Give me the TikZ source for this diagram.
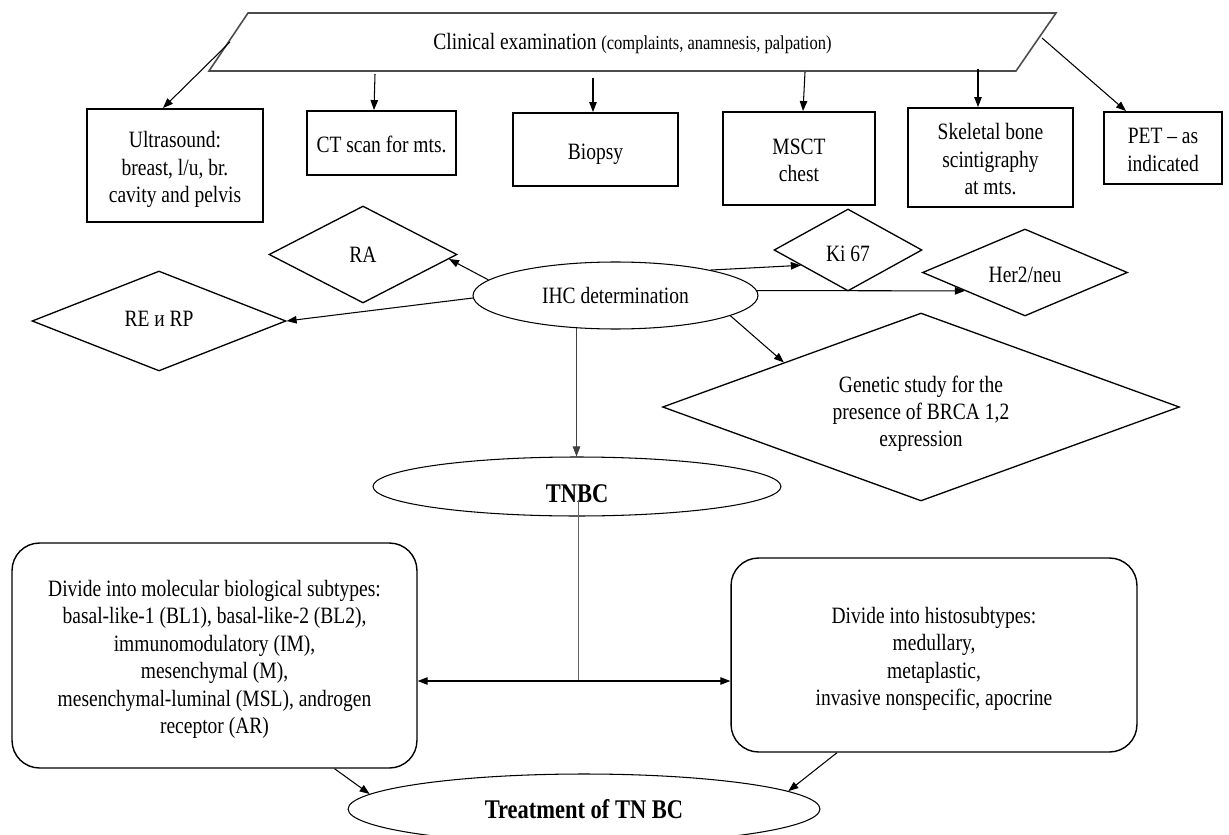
\documentclass[tikz,border=0pt]{standalone}
\usepackage{graphicx}
\usepackage{fontspec}
\setmainfont{Liberation Serif}
\usetikzlibrary{shapes.geometric,arrows.meta,calc}
\newcommand{\rfont}{\fontsize{11.1pt}{13pt}\selectfont}
\newcommand{\bfnt}{\fontsize{12.8pt}{15pt}\selectfont\bfseries}
\newcommand{\tx}[2][0pt]{\raisebox{\dimexpr-2.3pt-#1\relax}[\height][\depth]{\scalebox{1}[1.2]{\begin{tabular}{@{}c@{}}#2\end{tabular}}}}
\begin{document}
\begin{tikzpicture}[x=0.02cm,y=-0.02cm,font=\rfont,
  box/.style={draw,rectangle,line width=1.1pt,inner sep=0pt},
  dia/.style={draw,diamond,line width=0.75pt,inner sep=0pt},
  ell/.style={draw,ellipse,line width=0.6pt,inner sep=0pt},
  rbox/.style={draw,rectangle,rounded corners=0.55cm,line width=0.8pt,inner sep=0pt},
  arr/.style={-{Triangle[length=0.2cm,width=0.15cm]},line width=0.6pt},
  thin gray/.style={line width=0.5pt,black!60}]
\useasboundingbox (0,0) rectangle (1229,834);

% parallelogram
\coordinate (p1) at (248,13);
\coordinate (p2) at (1056,13);
\coordinate (p3) at (1016,71);
\coordinate (p4) at (209,71);
\draw[line width=0.9pt,black!70] (p1) -- (p2) -- (p3) -- (p4) -- cycle;
\node (clin) at (632.5,43.5) {\scalebox{1}[1.2]{Clinical examination {\fontsize{9.4pt}{11pt}\selectfont (complaints, anamnesis, palpation)}}};

% top boxes
\node[box,minimum width=3.52cm,minimum height=2.26cm] (us) at (175,165.5) {\tx{Ultrasound:\\breast, l/u, br.\\cavity and pelvis}};
\node[box,minimum width=2.98cm,minimum height=1.28cm] (ct) at (381.5,143) {\tx{CT scan for mts.}};
\node[box,minimum width=3.30cm,minimum height=1.46cm] (bio) at (595.5,149.5) {\tx{Biopsy}};
\node[box,minimum width=3.04cm,minimum height=1.86cm] (msct) at (799,158.5) {\tx{MSCT\\chest}};
\node[box,minimum width=3.30cm,minimum height=1.98cm] (skel) at (990.5,157.5) {\tx{Skeletal bone\\scintigraphy\\at mts.}};
\node[box,minimum width=2.36cm,minimum height=1.44cm] (pet) at (1163,148) {\tx{PET -- as\\indicated}};

% arrow starts on the parallelogram
\coordinate (sus) at (230,42);
\coordinate (sct) at (375,74);
\coordinate (sbio) at (593,78);
\coordinate (smsct) at (805,72);
\coordinate (sskel) at (978,69);
\coordinate (spet) at (1042,38);

\draw[arr] (sus) -- ($(us.north)+(-12,0)$);
\draw[arr] (sct) -- ($(ct.north)+(-7.5,0)$);
\draw[arr] (sbio) -- ($(bio.north)+(-2.5,0)$);
\draw[arr] (smsct) -- ($(msct.north)+(4,0)$);
\draw[arr] (sskel) -- ($(skel.north)+(-12.5,0)$);
\draw[arr] (spet) -- ($(pet.north)+(-37,0)$);

% IHC and markers
\node[ell,minimum width=5.70cm,minimum height=1.34cm] (ihc) at (615.5,295.5) {\tx[-0.6pt]{IHC determination}};
\node[dia,aspect=1.94,minimum width=3.76cm,minimum height=1.94cm] (ra) at (363,254.5) {\tx[-1.1pt]{RA}};
\node[dia,aspect=2.54,minimum width=5.08cm,minimum height=2.00cm] (re) at (159,321) {\tx[-2.3pt]{RE и RP}};
\node[dia,aspect=1.8,minimum width=2.96cm,minimum height=1.64cm] (ki) at (848,250) {\tx[1.1pt]{Ki 67}};
\node[dia,aspect=2.36,minimum width=4.10cm,minimum height=1.74cm] (her) at (1025,272.5) {\tx{Her2/neu}};
\node[dia,aspect=2.75,minimum width=10.34cm,minimum height=3.76cm] (gen) at (921,407) {\tx[1.7pt]{Genetic study for the\\presence of BRCA 1,2\\expression}};

\draw[arr] (ihc.173) -- (ra.-3);
\draw[arr] (ihc.181) -- (re.east);
\draw[arr] (ihc.15) -- (ki.198);
\draw[arr] (ihc.2) -- (her.197);
\draw[arr] (ihc.-10) -- (gen.162);

% TNBC
\node[ell,minimum width=8.16cm,minimum height=1.18cm] (tnbc) at (577,486.5) {\tx[3.4pt]{\bfnt TNBC}};
\draw[arr,thin gray,black!75] (ihc.220) -- (tnbc.north -| ihc.220);

% subtype boxes
\node[rbox,minimum width=8.10cm,minimum height=4.50cm] (lbox) at (214.5,655.5) {\tx{Divide into molecular biological subtypes:\\basal-like-1 (BL1), basal-like-2 (BL2),\\immunomodulatory (IM),\\mesenchymal (M),\\mesenchymal-luminal (MSL), androgen\\receptor (AR)}};
\node[rbox,minimum width=8.12cm,minimum height=3.88cm] (rbox) at (934,655) {\tx{Divide into histosubtypes:\\medullary,\\metaplastic,\\invasive nonspecific, apocrine}};

\coordinate (tb) at ($(tnbc.center)+(1,13)$);
\coordinate (jn) at (578,681);
\draw[thin gray] (tb) -- (jn);
\draw[arr] (jn) -- (lbox.east |- jn);
\draw[arr] (jn) -- (rbox.west |- jn);

% treatment
\node[ell,minimum width=9.44cm,minimum height=1.40cm] (treat) at (584,809) {\tx{\bfnt Treatment of TN BC}};
\draw[arr] ($(lbox.south)+(120,0)$) -- (treat.176);
\draw[arr] ($(rbox.south)+(-97,0)$) -- (treat.5);
\end{tikzpicture}
\end{document}
